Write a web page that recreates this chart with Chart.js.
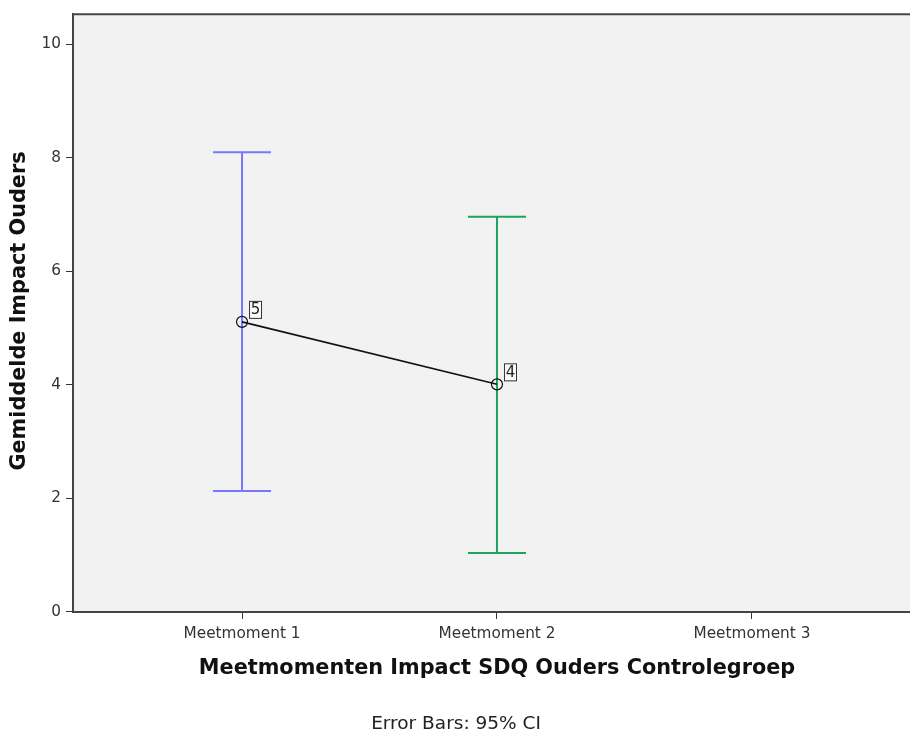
<!DOCTYPE html>
<html>
<head>
<meta charset="utf-8">
<script src="https://cdn.jsdelivr.net/npm/chart.js@4.4.1/dist/chart.umd.min.js"></script>
<style>
  html, body { margin: 0; padding: 0; background: #fff; }
  #wrap { width: 910px; height: 735px; }
</style>
</head>
<body>
<div id="wrap"><canvas id="chart" width="910" height="735"></canvas></div>
<script>
const categories = ['Meetmoment 1', 'Meetmoment 2', 'Meetmoment 3'];
const positions = [1, 2];
const means = [5.11, 4.01];
const ciLower = [2.13, 1.04];
const ciUpper = [8.10, 6.96];
const counts = ['5', '4'];
const barColors = ['#7878ff', '#1ea35e'];
const yTicks = [0, 2, 4, 6, 8, 10];

const TICK_FONT = { family: 'DejaVu Sans', size: 15.3 };

// error bars with caps, drawn behind the mean line
const errorBars = {
    id: 'errorBars',
    beforeDatasetsDraw(chart) {
        const { ctx, scales: { x, y } } = chart;
        ctx.save();
        ctx.lineWidth = 2;
        positions.forEach((p, i) => {
            const px = x.getPixelForValue(p);
            const top = y.getPixelForValue(ciUpper[i]);
            const bot = y.getPixelForValue(ciLower[i]);
            ctx.strokeStyle = barColors[i];
            ctx.beginPath();
            ctx.moveTo(px, top); ctx.lineTo(px, bot);
            ctx.moveTo(px - 29, top); ctx.lineTo(px + 29, top);
            ctx.moveTo(px - 29, bot); ctx.lineTo(px + 29, bot);
            ctx.stroke();
        });
        ctx.restore();
    }
};

// boxed N labels, frame border and titles
const decorations = {
    id: 'decorations',
    afterDraw(chart) {
        const { ctx, chartArea: a, scales: { x, y } } = chart;
        ctx.save();
        ctx.strokeStyle = '#444';
        ctx.lineWidth = 2;
        ctx.beginPath();
        ctx.moveTo(a.left - 1, a.top); ctx.lineTo(a.right, a.top);
        ctx.stroke();

        ctx.font = '15px "DejaVu Sans"';
        ctx.textAlign = 'center';
        ctx.textBaseline = 'middle';
        positions.forEach((p, i) => {
            const px = x.getPixelForValue(p);
            const py = y.getPixelForValue(means[i]);
            const bx = px + 7, by = py - 21;
            ctx.fillStyle = 'rgba(255,255,255,0.6)';
            ctx.fillRect(bx, by, 12, 17);
            ctx.strokeStyle = '#333';
            ctx.lineWidth = 1;
            ctx.strokeRect(bx + 0.5, by + 0.5, 12, 17);
            ctx.fillStyle = '#222';
            ctx.fillText(counts[i], bx + 6.5, by + 9.5);
        });

        ctx.fillStyle = '#111';
        ctx.font = 'bold 20.8px "DejaVu Sans"';
        ctx.fillText('Meetmomenten Impact SDQ Ouders Controlegroep', 497, 669);
        ctx.save();
        ctx.translate(20, 311);
        ctx.rotate(-Math.PI / 2);
        ctx.fillText('Gemiddelde Impact Ouders', 0, 0);
        ctx.restore();

        ctx.fillStyle = '#222';
        ctx.font = '18.5px "DejaVu Sans"';
        ctx.fillText('Error Bars: 95% CI', 456, 724);
        ctx.restore();
    }
};

const plotBackground = {
    id: 'plotBackground',
    beforeDraw(chart) {
        const { ctx, chartArea: a } = chart;
        ctx.save();
        ctx.fillStyle = '#f2f2f2';
        ctx.fillRect(a.left, a.top, a.right - a.left, a.bottom - a.top);
        ctx.restore();
    }
};

new Chart(document.getElementById('chart'), {
    type: 'line',
    data: {
        datasets: [{
            data: positions.map((p, i) => ({ x: p, y: means[i] })),
            borderColor: '#111',
            borderWidth: 1.6,
            pointStyle: 'circle',
            pointRadius: 5.5,
            pointBorderWidth: 1.2,
            pointBorderColor: '#111',
            pointBackgroundColor: 'rgba(0,0,0,0)',
            tension: 0
        }]
    },
    options: {
        responsive: false,
        animation: false,
        devicePixelRatio: 1,
        layout: { autoPadding: false, padding: { top: 13, right: 0, left: 0, bottom: 0 } },
        plugins: { legend: { display: false }, tooltip: { enabled: false } },
        scales: {
            x: {
                type: 'linear',
                min: 0.337,
                max: 3.62,
                afterFit: s => { s.height = 123; },
                afterBuildTicks: s => { s.ticks = [1, 2, 3].map(v => ({ value: v })); },
                grid: { drawOnChartArea: false, tickLength: 7, tickColor: '#333', tickWidth: 1 },
                border: { color: '#444', width: 2 },
                ticks: {
                    font: TICK_FONT, color: '#333', padding: 6, maxRotation: 0,
                    callback: v => categories[v - 1]
                }
            },
            y: {
                type: 'linear',
                min: 0,
                max: 10.53,
                afterFit: s => { s.width = 73; },
                afterBuildTicks: s => { s.ticks = yTicks.map(v => ({ value: v })); },
                grid: { drawOnChartArea: false, tickLength: 7, tickColor: '#333', tickWidth: 1 },
                border: { color: '#444', width: 2 },
                ticks: { font: TICK_FONT, color: '#333', padding: 5 }
            }
        }
    },
    plugins: [plotBackground, errorBars, decorations]
});
</script>
</body>
</html>
